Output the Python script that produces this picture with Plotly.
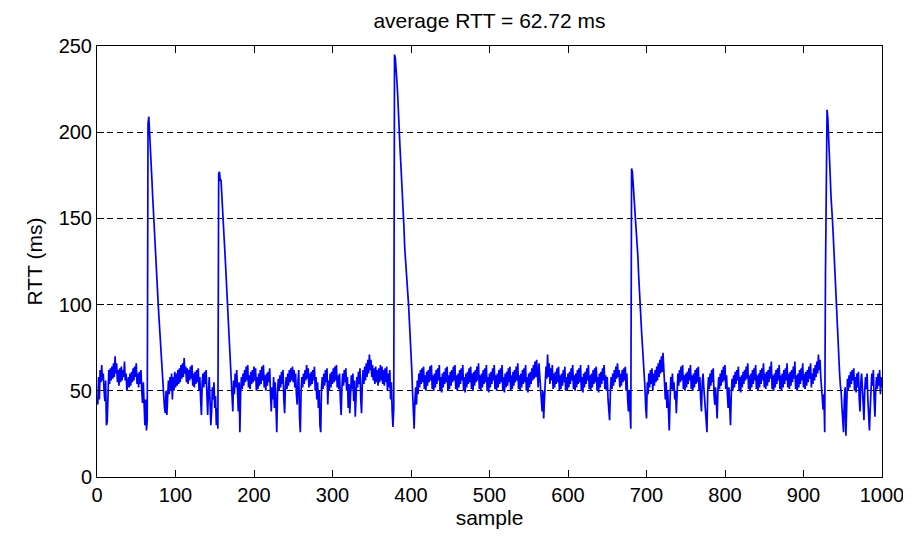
import plotly.graph_objects as go

# RTT samples (ms), 100 per array
rtt_0001_0100 = [42,58,45,62,55,65,56,60,50,44, 56,30,32,55,62,54,63,56,64,57,
                 66,58,70,60,66,55,62,53,63,55, 64,56,62,58,67,56,60,50,53,58,
                 52,60,53,61,55,63,56,64,58,66, 54,60,52,61,54,62,50,43,55,40,
                 30,45,27,33,205,209,197,190,180,172, 162,152,142,133,124,116,108,100,92,84,
                 76,68,60,52,45,40,37,50,36,48, 56,48,58,50,60,45,58,50,61,52]
rtt_0101_0200 = [60,53,62,54,63,55,65,57,66,58, 69,60,64,55,63,54,62,56,64,57,
                 65,53,60,52,61,54,62,55,63,50, 58,45,36,55,60,52,61,54,62,48,
                 36,50,58,44,30,38,52,45,55,40, 47,30,40,28,176,177,172,172,165,158,
                 147,138,130,120,113,100,89,80,72,62, 52,45,38,56,48,60,52,62,45,38,
                 55,26,50,58,51,60,53,62,55,64, 56,65,52,59,51,61,54,62,55,64]
rtt_0201_0300 = [56,63,50,58,51,60,53,62,54,64, 56,65,52,59,50,60,53,61,55,63,
                 48,38,52,45,58,40,55,30,26,50, 57,50,59,52,61,54,62,45,37,52,
                 58,51,60,53,62,55,63,56,64,55, 62,52,60,48,42,55,62,35,26,50,
                 58,52,60,54,62,56,65,57,63,52, 60,53,61,54,62,56,64,50,58,45,
                 55,40,50,30,26,52,58,51,60,53, 62,55,63,42,56,50,60,52,61,54]
rtt_0301_0400 = [63,55,64,56,65,52,59,51,60,45, 36,52,60,53,62,55,63,50,58,40,
                 54,37,52,59,51,60,44,56,35,50, 58,52,61,54,63,45,37,55,62,54,
                 64,56,66,58,68,60,71,62,68,58, 65,56,63,54,64,55,62,53,63,55,
                 65,56,64,54,62,53,63,55,64,50, 60,52,62,45,55,38,29,40,245,243,
                 238,230,222,214,202,191,182,174,166,158, 145,133,127,120,113,106,99,90,82,70]
rtt_0401_0500 = [62,49,40,28,45,52,42,56,48,60, 52,62,54,63,55,64,51,59,50,61,
                 53,62,55,64,56,65,51,59,50,60, 52,62,54,63,56,65,50,58,49,60,
                 52,61,54,63,55,64,50,59,51,61, 53,62,55,64,56,65,51,59,50,60,
                 52,62,54,63,56,65,50,58,49,60, 52,61,54,63,55,64,51,60,50,61,
                 53,62,55,64,56,66,51,59,50,60, 52,62,54,63,55,65,50,58,49,60]
rtt_0501_0600 = [52,61,54,63,56,65,51,59,50,60, 52,62,54,63,55,65,50,58,49,60,
                 52,61,53,63,55,64,50,59,51,61, 53,62,55,64,56,66,51,59,50,60,
                 52,62,54,63,55,65,50,58,49,60, 52,61,54,63,56,65,57,67,58,68,
                 60,52,66,57,50,45,38,50,34,45, 58,64,57,71,58,66,54,63,56,65,
                 51,60,52,61,54,63,55,64,50,59, 51,60,53,62,55,64,50,58,50,60]
rtt_0601_0700 = [52,61,54,63,56,65,51,59,50,60, 52,62,54,63,55,65,50,58,49,60,
                 52,61,54,63,56,65,51,59,50,60, 52,62,54,63,55,64,50,58,49,60,
                 52,61,54,63,56,65,51,59,50,58, 45,40,33,50,58,51,60,53,62,55,
                 64,57,66,58,62,52,60,53,62,55, 63,56,64,50,60,45,38,50,32,28,
                 179,177,170,163,157,150,146,138,128,117, 106,98,90,82,75,68,60,52,40,34]
rtt_0701_0800 = [55,48,60,52,62,54,63,50,60,53, 62,55,64,56,66,58,68,60,70,61,
                 72,60,52,45,55,40,50,35,27,45, 58,51,60,50,55,45,50,37,52,60,
                 53,62,55,64,56,65,51,59,50,60, 52,61,54,63,56,65,51,59,50,60,
                 52,62,54,63,55,64,50,58,45,38, 55,60,52,45,36,30,26,50,58,51,
                 60,53,62,55,63,48,42,52,40,34, 50,58,51,60,53,62,55,64,56,65]
rtt_0801_0900 = [51,59,48,40,52,36,30,48,57,50, 59,52,61,54,62,56,64,50,58,49,
                 59,52,61,54,62,56,64,57,66,51, 59,50,60,52,62,54,63,56,65,51,
                 59,50,60,52,62,54,63,56,66,52, 60,51,61,53,62,55,64,57,67,51,
                 59,50,60,52,62,54,63,56,65,51, 59,50,60,52,62,54,63,56,66,52,
                 60,51,61,53,62,55,64,57,67,51, 59,50,60,52,62,54,63,56,66,52]
rtt_0901_1000 = [60,51,61,53,62,55,64,57,66,52, 60,54,63,56,65,58,67,60,71,62,
                 68,58,50,45,39,48,26,118,205,213, 208,193,185,175,163,157,148,139,128,118,
                 110,101,90,78,69,60,53,49,40,32, 26,45,52,24,48,57,50,59,52,61,
                 54,62,56,63,50,58,49,60,52,61, 45,38,55,60,52,45,33,50,58,51,
                 60,45,35,27,40,52,60,53,62,45, 35,50,58,51,60,53,62,48,58,52]

rtt = (rtt_0001_0100 + rtt_0101_0200 + rtt_0201_0300 + rtt_0301_0400 + rtt_0401_0500 +
       rtt_0501_0600 + rtt_0601_0700 + rtt_0701_0800 + rtt_0801_0900 + rtt_0901_1000)
sample = list(range(1, len(rtt) + 1))

x_ticks = [0, 100, 200, 300, 400, 500, 600, 700, 800, 900, 1000]
y_ticks = [0, 50, 100, 150, 200, 250]
title_text = "average RTT = 62.72 ms"

FONT = "Liberation Sans, Arial, sans-serif"

# page body has an 8px margin, so the figure is 8px smaller and margins shifted
W, H = 903, 535

fig = go.Figure()
fig.add_trace(go.Scatter(x=sample, y=rtt, mode="lines",
                         line=dict(color="#0000ff", width=1.7),
                         hoverinfo="x+y"))

fig.update_layout(
    width=W, height=H,
    margin=dict(l=89, r=29, t=38, b=66, autoexpand=False),
    paper_bgcolor="white", plot_bgcolor="white",
    showlegend=False,
    font=dict(family=FONT, size=20, color="black"),
    title=dict(text=title_text, x=0.5, xref="paper", xanchor="center",
               y=1 - 13 / H, yref="container", yanchor="middle",
               font=dict(family=FONT, size=21, color="black")),
)
fig.update_xaxes(range=[0, 1000], tickvals=x_ticks, ticks="inside", ticklen=7,
                 tickcolor="black", showline=True, linecolor="black", linewidth=1,
                 mirror="ticks", showgrid=False, zeroline=False, automargin=False,
                 title=dict(text="sample", standoff=4, font=dict(size=21)),
                 tickfont=dict(family=FONT, size=20))
fig.update_yaxes(range=[0, 250], tickvals=y_ticks, ticks="inside", ticklen=7,
                 tickcolor="black", showline=True, linecolor="black", linewidth=1,
                 mirror="ticks", showgrid=True, gridcolor="black", gridwidth=1,
                 griddash="6px,4px", zeroline=False, automargin=False,
                 title=dict(text="RTT (ms)", standoff=10, font=dict(size=21)),
                 tickfont=dict(family=FONT, size=20))

fig.write_html("out.html")
